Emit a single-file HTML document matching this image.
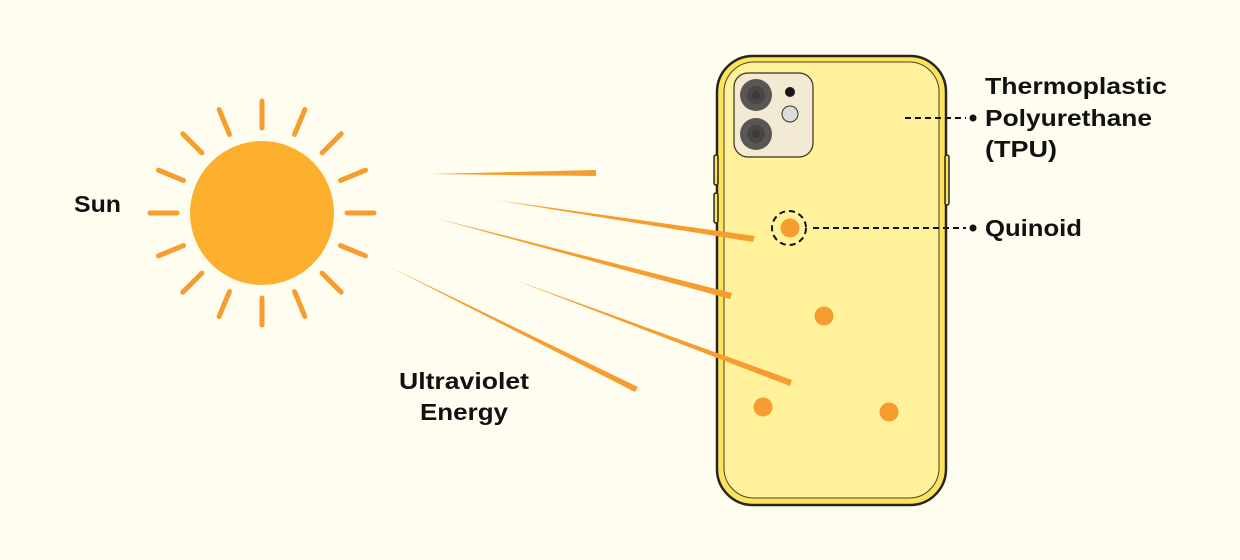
<!DOCTYPE html>
<html><head><meta charset="utf-8"><style>
html,body{margin:0;padding:0;background:#fffdf0;}
svg{display:block}
text{font-family:"Liberation Sans",sans-serif;font-weight:bold;font-size:23px;fill:#111;}
</style></head><body>
<svg width="1240" height="560" viewBox="0 0 1240 560" xmlns="http://www.w3.org/2000/svg">
<rect width="1240" height="560" fill="#fffdf0"/>
<g stroke="#f79c2e" stroke-width="5" stroke-linecap="round">
<g transform="translate(262,213)">
<line x1="0" y1="-85" x2="0" y2="-112"/>
<line x1="0" y1="-85" x2="0" y2="-112" transform="rotate(22.5)"/>
<line x1="0" y1="-85" x2="0" y2="-112" transform="rotate(45)"/>
<line x1="0" y1="-85" x2="0" y2="-112" transform="rotate(67.5)"/>
<line x1="0" y1="-85" x2="0" y2="-112" transform="rotate(90)"/>
<line x1="0" y1="-85" x2="0" y2="-112" transform="rotate(112.5)"/>
<line x1="0" y1="-85" x2="0" y2="-112" transform="rotate(135)"/>
<line x1="0" y1="-85" x2="0" y2="-112" transform="rotate(157.5)"/>
<line x1="0" y1="-85" x2="0" y2="-112" transform="rotate(180)"/>
<line x1="0" y1="-85" x2="0" y2="-112" transform="rotate(202.5)"/>
<line x1="0" y1="-85" x2="0" y2="-112" transform="rotate(225)"/>
<line x1="0" y1="-85" x2="0" y2="-112" transform="rotate(247.5)"/>
<line x1="0" y1="-85" x2="0" y2="-112" transform="rotate(270)"/>
<line x1="0" y1="-85" x2="0" y2="-112" transform="rotate(292.5)"/>
<line x1="0" y1="-85" x2="0" y2="-112" transform="rotate(315)"/>
<line x1="0" y1="-85" x2="0" y2="-112" transform="rotate(337.5)"/>
</g></g>
<circle cx="262" cy="213" r="72" fill="#fdb02e"/>
<text x="74" y="212" textLength="47" lengthAdjust="spacingAndGlyphs">Sun</text>
<rect x="717" y="56" width="229" height="449" rx="36" fill="#fbe35a" stroke="#2a2420" stroke-width="2.5"/>
<rect x="714" y="155" width="4" height="30" rx="2" fill="#fbe35a" stroke="#2a2420" stroke-width="1.5"/>
<rect x="714" y="193" width="4" height="30" rx="2" fill="#fbe35a" stroke="#2a2420" stroke-width="1.5"/>
<rect x="945" y="155" width="4" height="50" rx="2" fill="#fbe35a" stroke="#2a2420" stroke-width="1.5"/>
<rect x="724" y="62" width="215" height="436" rx="30" fill="#fff29a" stroke="#4a4030" stroke-width="1"/>
<rect x="734" y="73" width="79" height="84" rx="14" fill="#f2ead2" stroke="#3a3020" stroke-width="1.2"/>
<circle cx="756" cy="95" r="16" fill="#5a5654"/><circle cx="756" cy="95" r="9" fill="#4a4644"/><circle cx="756" cy="95" r="4" fill="#3e3a38"/>
<circle cx="756" cy="134" r="16" fill="#5a5654"/><circle cx="756" cy="134" r="9" fill="#4a4644"/><circle cx="756" cy="134" r="4" fill="#3e3a38"/>
<circle cx="790" cy="92" r="5" fill="#1e1614"/>
<circle cx="790" cy="114" r="8" fill="#dcdcdc" stroke="#3a3020" stroke-width="1"/>
<g fill="#f79c2e">
<polygon points="430,174 596,170 596,176"/>
<polygon points="495,200 755,236 753,242"/>
<polygon points="435,218 732,293 730,299"/>
<polygon points="515,280 792,380 790,386"/>
<polygon points="390,267 638,387 635,392"/>
</g>
<g fill="#f79c2e">
<circle cx="790" cy="228" r="9.5"/>
<circle cx="824" cy="316" r="9.5"/>
<circle cx="763" cy="407" r="9.5"/>
<circle cx="889" cy="412" r="9.5"/>
</g>
<circle cx="789" cy="228" r="17" fill="none" stroke="#111" stroke-width="2" stroke-dasharray="6,4"/>
<g stroke="#111" stroke-width="2" stroke-dasharray="6,4">
<line x1="813" y1="228" x2="966" y2="228"/>
<line x1="905" y1="118" x2="966" y2="118"/>
</g>
<circle cx="973" cy="228" r="3.5" fill="#111"/>
<circle cx="973" cy="118" r="3.5" fill="#111"/>
<text x="985" y="94" textLength="182" lengthAdjust="spacingAndGlyphs">Thermoplastic</text>
<text x="985" y="126" textLength="167" lengthAdjust="spacingAndGlyphs">Polyurethane</text>
<text x="985" y="157" textLength="72" lengthAdjust="spacingAndGlyphs">(TPU)</text>
<text x="985" y="236" textLength="97" lengthAdjust="spacingAndGlyphs">Quinoid</text>
<text x="399" y="389" textLength="130" lengthAdjust="spacingAndGlyphs">Ultraviolet</text>
<text x="420" y="420" textLength="88" lengthAdjust="spacingAndGlyphs">Energy</text>
</svg>
</body></html>
